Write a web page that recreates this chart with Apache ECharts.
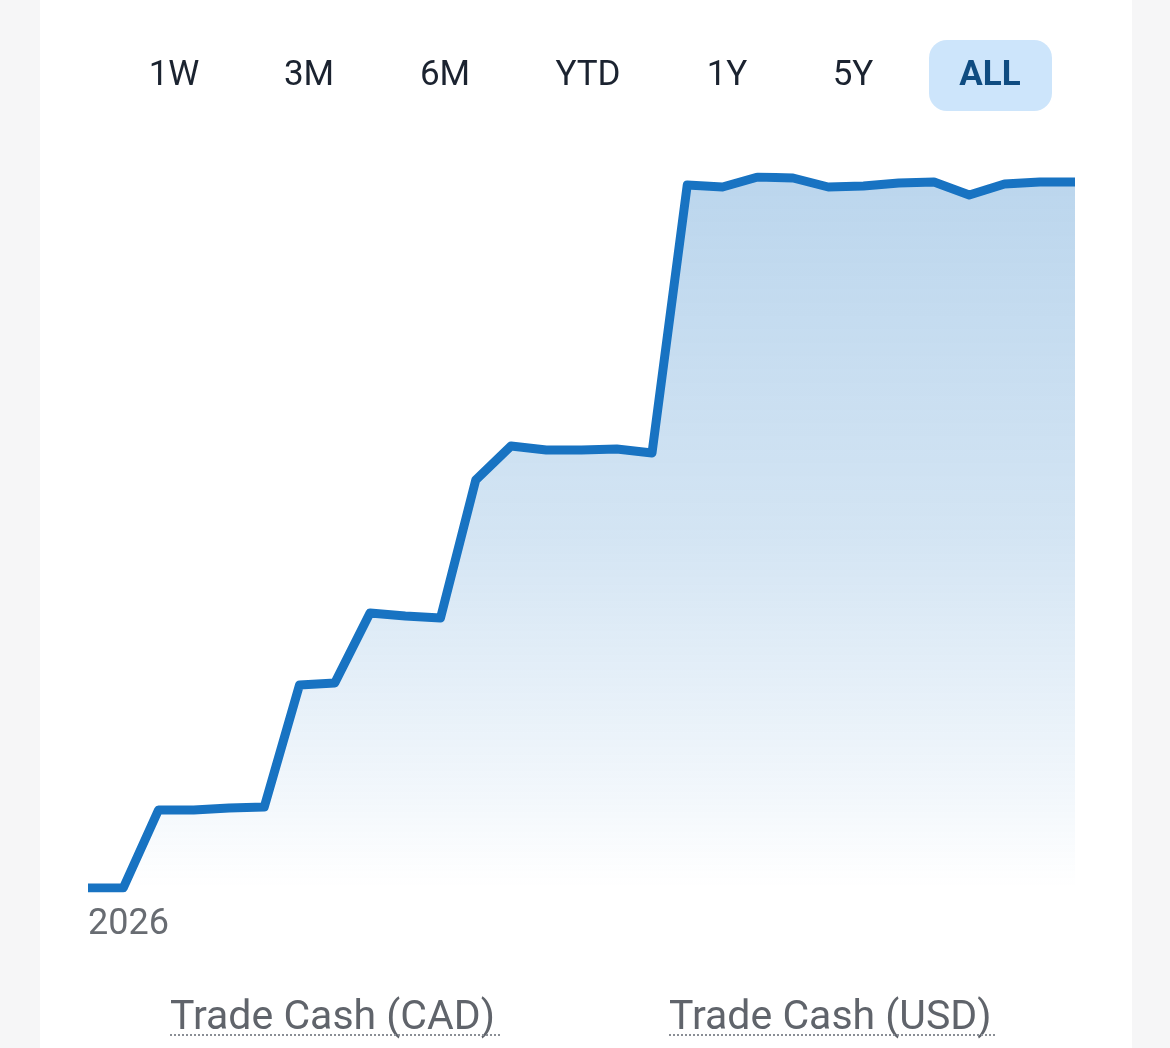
<!DOCTYPE html>
<html>
<head>
<meta charset="utf-8">
<script src="https://cdn.jsdelivr.net/npm/echarts@6/dist/echarts.min.js"></script>
<style>
  html, body { margin: 0; padding: 0; background: #f6f6f7; }
  #card { position: absolute; left: 40px; top: 0; width: 1092px; height: 1048px; background: #ffffff; }
  #chart { position: absolute; left: 0; top: 0; width: 1170px; height: 1048px; }
</style>
</head>
<body>
<div id="card"></div>
<div id="chart"></div>
<script>
// Weekly points (approximate account value)
const categories = [
  '2026-01-02','2026-01-09','2026-01-16','2026-01-23','2026-01-30','2026-02-06','2026-02-13','2026-02-20',
  '2026-02-27','2026-03-06','2026-03-13','2026-03-20','2026-03-27','2026-04-03','2026-04-10','2026-04-17',
  '2026-04-24','2026-05-01','2026-05-08','2026-05-15','2026-05-22','2026-05-29','2026-06-05','2026-06-12',
  '2026-06-19','2026-06-26','2026-07-03','2026-07-10','2026-07-17'
];
const values = [
  0, 0, 780, 780, 800, 810, 2030, 2050,
  2750, 2720, 2700, 4080, 4420, 4380, 4380, 4390,
  4350, 7030, 7010, 7110, 7100, 7010, 7020, 7050,
  7060, 6930, 7040, 7060, 7060
];
const xTickLabels = { 0: '2026' };
const rangeButtons = ['1W', '3M', '6M', 'YTD', '1Y', '5Y', 'ALL'];
const activeRange = 'ALL';
const accountLabels = ['Trade Cash (CAD)', 'Trade Cash (USD)'];

const chart = echarts.init(document.getElementById('chart'), null, { renderer: 'canvas' });

const btnCenters = [174, 309, 445, 588, 727, 853, 990];
const graphics = [];
rangeButtons.forEach((b, i) => {
  const active = b === activeRange;
  if (active) {
    graphics.push({
      type: 'rect', shape: { x: btnCenters[i] - 61, y: 40, width: 123, height: 71, r: 18 },
      style: { fill: '#cde5fb' }, z: 1
    });
  }
  graphics.push({
    type: 'text', x: btnCenters[i], y: 76, z: 2,
    style: {
      text: b, fill: active ? '#0f4c81' : '#1b2330',
      font: (active ? 'bold ' : '') + '35px Roboto',
      textAlign: 'center', textVerticalAlign: 'middle'
    }
  });
});
const labelPos = [[170, 500], [669, 997]];
accountLabels.forEach((t, i) => {
  graphics.push({
    type: 'text', x: labelPos[i][0], y: 1019, z: 2,
    style: { text: t, fill: '#60646b', font: '41px Roboto', textAlign: 'left', textVerticalAlign: 'middle' }
  });
  graphics.push({
    type: 'line', z: 2,
    shape: { x1: labelPos[i][0], y1: 1035, x2: labelPos[i][1], y2: 1035 },
    style: { stroke: '#8a8e95', lineWidth: 2, lineDash: [2, 2] }
  });
});

chart.setOption({
  animation: false,
  backgroundColor: 'transparent',
  grid: { left: 88, right: 95, top: 177, bottom: 160, containLabel: false },
  xAxis: {
    type: 'category', data: categories, boundaryGap: false,
    axisLine: { show: false }, axisTick: { show: false }, splitLine: { show: false },
    axisLabel: {
      interval: (idx) => xTickLabels[idx] !== undefined,
      formatter: (v, idx) => xTickLabels[idx] || '',
      color: '#686c72', fontSize: 36, fontFamily: 'Roboto', align: 'left', margin: 19
    }
  },
  yAxis: {
    type: 'value', min: 0, max: 7110, show: false, splitLine: { show: false }
  },
  series: [{
    type: 'line', data: values, symbol: 'none', smooth: false,
    lineStyle: { color: '#1873c2', width: 9, join: 'round', cap: 'butt' },
    areaStyle: {
      color: new echarts.graphic.LinearGradient(0, 0, 0, 1, [
        { offset: 0, color: 'rgba(24,115,194,0.42)' },
        { offset: 0.5, color: 'rgba(24,115,194,0.27)' },
        { offset: 0.85, color: 'rgba(24,115,194,0.09)' },
        { offset: 1, color: 'rgba(24,115,194,0.0)' }
      ])
    }
  }],
  graphic: graphics
});
</script>
</body>
</html>
